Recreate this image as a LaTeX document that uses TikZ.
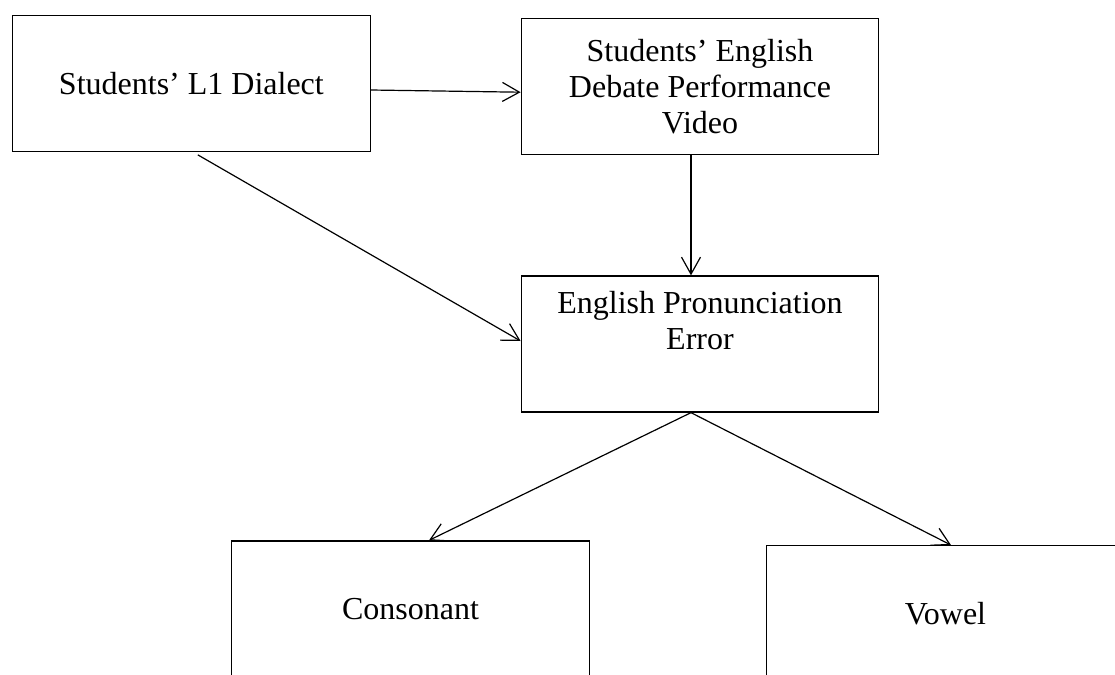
\documentclass[tikz,border=0pt]{standalone}
\usepackage{fontspec}
\setmainfont{Liberation Serif}
\usetikzlibrary{arrows.meta,positioning}
\tikzset{
  box/.style={draw,line width=0.65pt,minimum width=178.75pt,minimum height=68pt,
    inner sep=0pt,align=center,font=\fontsize{16}{18}\selectfont},
  link/.style={->,line width=0.6pt}
}

\begin{document}
\begin{tikzpicture}[x=0.5pt,y=-0.5pt,>={Straight Barb[length=8.5pt,width=9.5pt]}]
\useasboundingbox (0,0) rectangle (1115,675);
\node[box] (dial) at (191.4,83.2) {Students' L1 Dialect};
\node[box] (video) at (700,86.2) {Students' English\\Debate Performance\\Video};
\node[box] (err) at (700,344) {English Pronunciation\\Error\\\strut};
\node[box] (cons) at (410.5,609) {Consonant};
\node[box] (vow) at (945.5,613.7) {Vowel};
\draw[link] ([yshift=-3.4pt]dial.east) -- ([yshift=-3pt]video.west);
\draw[link] ([xshift=-4.5pt]video.south) -- ([xshift=-4.5pt]err.north);
\draw[link] ([xshift=3.2pt,yshift=-1.5pt]dial.south) -- ([yshift=1.5pt]err.west);
\draw[link] ([xshift=-4.5pt]err.south) -- ([xshift=9.25pt]cons.north);
\draw[link] ([xshift=-4.5pt]err.south) -- ([xshift=2.75pt]vow.north);
\end{tikzpicture}
\end{document}
